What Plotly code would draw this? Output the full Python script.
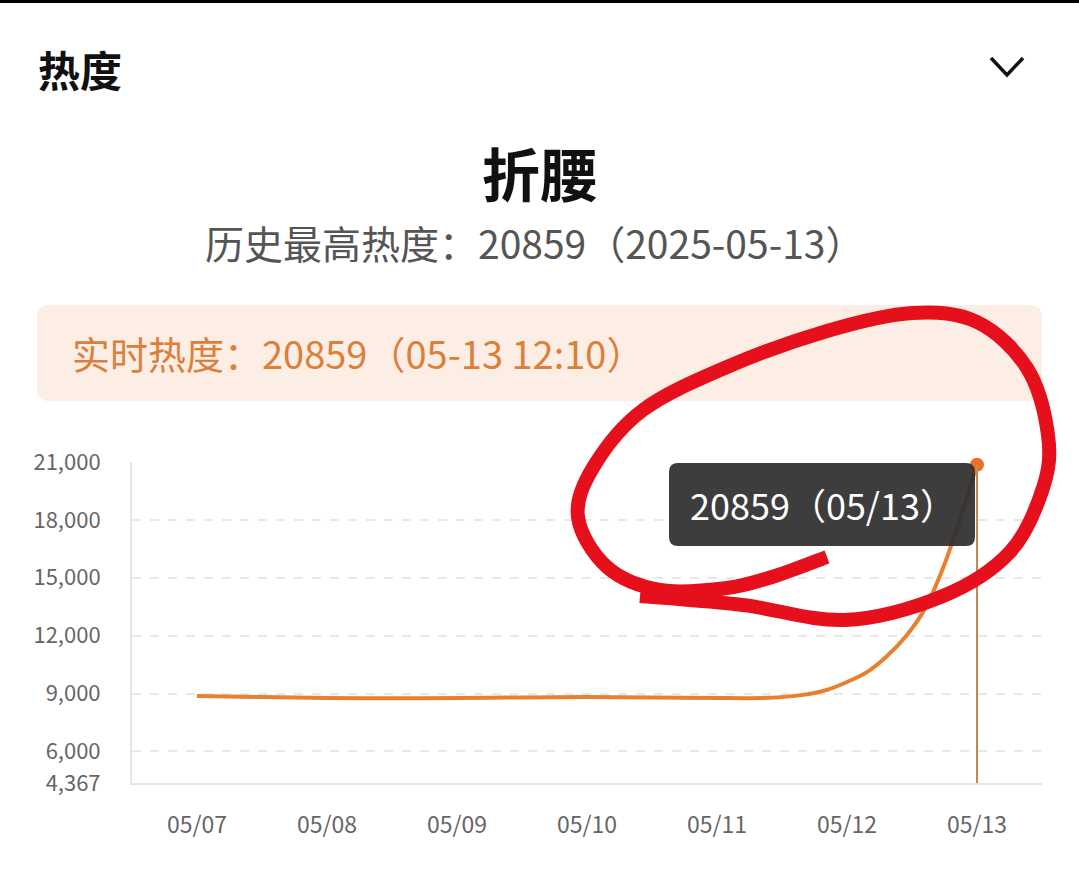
import plotly.graph_objects as go

# ---------------- data ----------------
day_labels = ["05/07", "05/08", "05/09", "05/10", "05/11", "05/12", "05/13"]
day_pos = [0.0, 0.5, 1.0, 1.5, 2.0, 2.5, 3.0, 3.5, 4.0, 4.4, 4.65, 4.85,
           5.0, 5.15, 5.3, 5.45, 5.6, 5.75, 5.9, 6.0]
heat = [8880, 8820, 8770, 8760, 8770, 8800, 8820, 8800, 8770, 8780, 8920, 9200,
        9600, 10100, 10900, 11950, 13400, 15700, 18700, 20859]
y_ticks = [4367, 6000, 9000, 12000, 15000, 18000, 21000]
y_min, y_max = 4367, 21000

title_main = "折腰"
subtitle = "历史最高热度：20859（2025-05-13）"
realtime = "实时热度：20859（05-13 12:10）"
tooltip_text = "20859（05/13）"

# ---------------- geometry helpers (page pixels -> paper) ----------------
W, H = 1079, 893
L, R, T, B = 132, 1042, 462, 783


def px(x):
    return (x - L) / (R - L)


def py(y):
    return (B - y) / (B - T)


def rounded_rect(x0, y0, x1, y1, r):
    return (f"M {px(x0 + r)} {py(y0)} L {px(x1 - r)} {py(y0)} "
            f"Q {px(x1)} {py(y0)} {px(x1)} {py(y0 + r)} L {px(x1)} {py(y1 - r)} "
            f"Q {px(x1)} {py(y1)} {px(x1 - r)} {py(y1)} L {px(x0 + r)} {py(y1)} "
            f"Q {px(x0)} {py(y1)} {px(x0)} {py(y1 - r)} L {px(x0)} {py(y0 + r)} "
            f"Q {px(x0)} {py(y0)} {px(x0 + r)} {py(y0)} Z")


def smooth_path(pts):
    # Catmull-Rom -> cubic Bezier
    d = f"M {px(pts[0][0])} {py(pts[0][1])}"
    for i in range(len(pts) - 1):
        p0 = pts[i - 1] if i > 0 else pts[i]
        p1 = pts[i]
        p2 = pts[i + 1]
        p3 = pts[i + 2] if i + 2 < len(pts) else pts[i + 1]
        c1 = (p1[0] + (p2[0] - p0[0]) / 6, p1[1] + (p2[1] - p0[1]) / 6)
        c2 = (p2[0] - (p3[0] - p1[0]) / 6, p2[1] - (p3[1] - p1[1]) / 6)
        d += (f" C {px(c1[0])} {py(c1[1])} {px(c2[0])} {py(c2[1])} "
              f"{px(p2[0])} {py(p2[1])}")
    return d


FONT = "Noto Sans CJK SC"
ORANGE = "#e8802f"

fig = go.Figure()

fig.add_trace(go.Scatter(
    x=day_pos, y=heat, mode="lines",
    line=dict(color=ORANGE, width=4, shape="spline", smoothing=0.8),
    hoverinfo="skip", showlegend=False,
))

# vertical hover guide from last point
fig.add_shape(type="line", xref="x", yref="y",
              x0=day_pos[-1], x1=day_pos[-1], y0=y_min, y1=heat[-1],
              line=dict(color="#c9874f", width=2), layer="above")

# tooltip box
fig.add_shape(type="path", xref="paper", yref="paper",
              path=rounded_rect(669, 463, 975, 546, 9),
              fillcolor="rgba(45,45,45,0.92)", line=dict(width=0), layer="above")
fig.add_annotation(xref="paper", yref="paper", x=px(823), y=py(504),
                   text=tooltip_text, showarrow=False,
                   font=dict(family=FONT, size=36, color="white"),
                   xanchor="center", yanchor="middle")

# end point marker
fig.add_trace(go.Scatter(
    x=[day_pos[-1]], y=[heat[-1]], mode="markers",
    marker=dict(color="#e8712a", size=14),
    cliponaxis=False, hoverinfo="skip", showlegend=False,
))

# ---------------- page decorations ----------------
# top black bar
fig.add_shape(type="rect", xref="paper", yref="paper",
              x0=px(0), x1=px(W), y0=py(0), y1=py(3),
              fillcolor="black", line=dict(width=0), layer="below")
# realtime peach box
fig.add_shape(type="path", xref="paper", yref="paper",
              path=rounded_rect(37, 305, 1042, 401, 12),
              fillcolor="#fdeee5", line=dict(width=0), layer="below")
# chevron
fig.add_shape(type="path", xref="paper", yref="paper",
              path=f"M {px(991)} {py(58)} L {px(1007)} {py(75)} L {px(1023)} {py(58)}",
              line=dict(color="#111111", width=3.5), layer="above")

fig.add_annotation(xref="paper", yref="paper", x=px(36), y=py(68),
                   text="<b>热度</b>", showarrow=False,
                   font=dict(family=FONT, size=42, color="#111111"),
                   xanchor="left", yanchor="middle")
fig.add_annotation(xref="paper", yref="paper", x=px(540), y=py(172),
                   text=f"<b>{title_main}</b>", showarrow=False,
                   font=dict(family=FONT, size=58, color="#111111"),
                   xanchor="center", yanchor="middle")
fig.add_annotation(xref="paper", yref="paper", x=px(534), y=py(242),
                   text=subtitle, showarrow=False,
                   font=dict(family=FONT, size=39, color="#555555"),
                   xanchor="center", yanchor="middle")
fig.add_annotation(xref="paper", yref="paper", x=px(70), y=py(352),
                   text=realtime, showarrow=False,
                   font=dict(family=FONT, size=38, color="#dc7f3a"),
                   xanchor="left", yanchor="middle")

# hand-drawn red circle
red_pts = [(640, 596), (743, 605), (845, 620), (943, 596), (1010, 552),
           (1043, 488), (1048, 435), (1027, 368), (977, 322), (912, 313),
           (827, 331), (727, 367), (643, 410), (594, 466), (578, 517),
           (607, 567), (660, 590), (727, 588), (775, 576), (827, 557)]
fig.add_shape(type="path", xref="paper", yref="paper",
              path=smooth_path(red_pts),
              line=dict(color="#e5101b", width=14), layer="above")

fig.update_layout(
    width=W, height=H, autosize=False,
    margin=dict(l=L, r=W - R, t=T, b=H - B, pad=0),
    paper_bgcolor="white", plot_bgcolor="white",
    xaxis=dict(range=[-0.5, 6.5], tickvals=list(range(len(day_labels))),
               ticktext=day_labels, showgrid=False, zeroline=False,
               showline=True, linecolor="#e6e6e6", linewidth=2,
               ticks="outside", ticklen=20, tickcolor="rgba(0,0,0,0)",
               tickfont=dict(family=FONT, size=23, color="#666666")),
    yaxis=dict(range=[y_min, y_max], tickvals=y_ticks,
               ticktext=[f"{v:,}" for v in y_ticks],
               showgrid=True, gridcolor="#e8e8e8", griddash="dash", gridwidth=1.5,
               zeroline=False, showline=True, linecolor="#e6e6e6", linewidth=2,
               ticks="outside", ticklen=25, tickcolor="rgba(0,0,0,0)",
               tickfont=dict(family=FONT, size=22, color="#666666")),
)

fig.write_html("out.html", config={"displayModeBar": False},
               post_script="document.body.style.margin='0';document.body.style.overflow='hidden';")
